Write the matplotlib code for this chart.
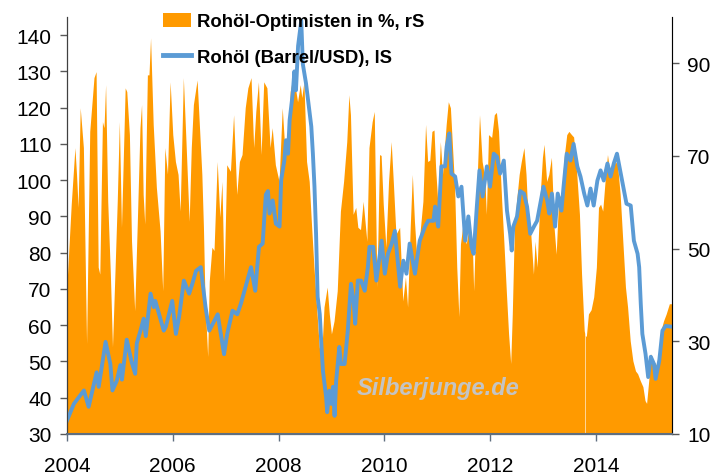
import numpy as np
import matplotlib
matplotlib.use("Agg")
import matplotlib.pyplot as plt
from matplotlib.patches import Patch
from matplotlib.lines import Line2D

plt.rcParams["font.family"] = ["Liberation Sans", "DejaVu Sans"]

# Rohöl (Barrel/USD), linke Skala
oil_years = [
    2004.00, 2004.13, 2004.32, 2004.41, 2004.56, 2004.60, 2004.73, 2004.82, 2004.86, 2004.94,
    2005.01, 2005.04, 2005.13, 2005.22, 2005.29, 2005.32, 2005.39, 2005.45, 2005.49, 2005.58,
    2005.64, 2005.67, 2005.83, 2005.87, 2005.99, 2006.06, 2006.12, 2006.21, 2006.31, 2006.37,
    2006.44, 2006.53, 2006.62, 2006.69, 2006.85, 2006.97, 2007.03, 2007.13, 2007.22, 2007.29,
    2007.41, 2007.48, 2007.56, 2007.63, 2007.70, 2007.76, 2007.80, 2007.83, 2007.89, 2007.95,
    2008.02, 2008.05, 2008.11, 2008.14, 2008.18, 2008.21, 2008.27, 2008.30, 2008.33, 2008.37,
    2008.43, 2008.46, 2008.52, 2008.59, 2008.62, 2008.65, 2008.68, 2008.71, 2008.74, 2008.78,
    2008.81, 2008.84, 2008.90, 2008.92, 2008.96, 2009.00, 2009.03, 2009.06, 2009.09, 2009.15,
    2009.18, 2009.25, 2009.31, 2009.37, 2009.42, 2009.45, 2009.50, 2009.56, 2009.63, 2009.69,
    2009.72, 2009.79, 2009.85, 2009.95, 2010.01, 2010.07, 2010.14, 2010.20, 2010.30, 2010.36,
    2010.42, 2010.48, 2010.58, 2010.67, 2010.77, 2010.83, 2010.93, 2010.96, 2011.02, 2011.08,
    2011.15, 2011.18, 2011.23, 2011.27, 2011.34, 2011.40, 2011.46, 2011.53, 2011.59, 2011.65,
    2011.69, 2011.75, 2011.80, 2011.86, 2011.94, 2012.00, 2012.07, 2012.13, 2012.19, 2012.26,
    2012.32, 2012.38, 2012.41, 2012.44, 2012.51, 2012.57, 2012.64, 2012.70, 2012.76, 2012.83,
    2012.89, 2012.95, 2013.01, 2013.08, 2013.12, 2013.17, 2013.23, 2013.28, 2013.35, 2013.39,
    2013.45, 2013.52, 2013.58, 2013.65, 2013.71, 2013.78, 2013.84, 2013.90, 2013.96, 2014.03,
    2014.09, 2014.15, 2014.22, 2014.28, 2014.34, 2014.40, 2014.46, 2014.52, 2014.58, 2014.66,
    2014.72, 2014.79, 2014.82, 2014.85, 2014.88, 2014.94, 2014.99, 2015.04, 2015.10, 2015.13,
    2015.20, 2015.26, 2015.32, 2015.42, 2015.45,
]
oil_price = [
    33.7, 38.3, 42.0, 37.5, 47.0, 43.0, 55.4, 49.3, 42.0, 44.6,
    49.0, 45.0, 56.0, 50.0, 46.6, 55.0, 58.5, 61.8, 57.0, 68.7,
    65.0, 66.7, 58.5, 59.6, 66.7, 57.6, 62.3, 72.3, 68.7, 71.4,
    75.0, 76.0, 65.0, 58.5, 63.0, 52.0, 57.6, 64.0, 63.0, 66.0,
    72.3, 76.0, 69.5, 81.6, 82.5, 96.0, 97.0, 90.8, 94.4, 88.0,
    87.2, 100.0, 105.4, 111.0, 107.3, 116.5, 124.0, 130.0, 124.8, 137.0,
    144.0, 132.0, 126.7, 118.4, 114.8, 107.3, 98.2, 85.2, 67.8, 63.0,
    54.9, 47.4, 40.2, 36.0, 41.9, 38.3, 43.0, 35.0, 44.6, 54.0,
    49.3, 49.3, 58.5, 71.4, 66.7, 60.4, 72.3, 72.3, 69.5, 76.0,
    81.6, 81.6, 72.3, 83.3, 74.2, 79.7, 82.5, 86.0, 70.6, 77.8,
    74.2, 82.5, 74.2, 83.3, 87.2, 88.8, 88.8, 92.7, 87.2, 103.8,
    103.8, 109.3, 112.9, 101.8, 101.0, 95.5, 98.2, 83.3, 90.0, 81.6,
    79.7, 92.7, 102.7, 95.5, 103.8, 98.2, 107.3, 106.5, 101.8, 105.4,
    91.6, 85.2, 80.6, 87.2, 90.0, 97.0, 96.3, 92.7, 85.2, 87.2,
    88.8, 93.5, 98.2, 94.4, 90.8, 96.3, 87.2, 96.3, 91.6, 98.2,
    107.3, 105.4, 110.0, 103.8, 101.0, 96.3, 93.0, 97.7, 93.0, 99.9,
    102.7, 99.9, 104.6, 101.0, 104.6, 107.3, 102.7, 98.2, 93.5, 93.0,
    83.3, 79.7, 76.0, 65.9, 57.6, 52.1, 45.7, 51.3, 49.3, 45.2,
    50.2, 58.5, 59.8, 59.6, 59.6,
]

# Rohöl-Optimisten in %, rechte Skala (NaN = Datenlücke)
opt_years = [
    2004.00, 2004.05, 2004.09, 2004.16, 2004.19, 2004.22, 2004.26, 2004.32, 2004.38, 2004.44,
    2004.52, 2004.56, 2004.60, 2004.63, 2004.68, 2004.71, 2004.74, 2004.78, 2004.83, 2004.87,
    2004.92, 2004.96, 2005.00, 2005.04, 2005.11, 2005.14, 2005.19, 2005.23, 2005.29, 2005.34,
    2005.39, 2005.42, 2005.45, 2005.48, 2005.53, 2005.56, 2005.59, 2005.64, 2005.70, 2005.77,
    2005.82, 2005.86, 2005.91, 2005.96, 2006.01, 2006.06, 2006.11, 2006.15, 2006.21, 2006.26,
    2006.32, 2006.36, 2006.40, 2006.47, 2006.51, 2006.56, 2006.59, 2006.62, 2006.67, 2006.70,
    2006.75, 2006.79, 2006.85, 2006.90, 2006.94, 2006.98, 2007.03, 2007.10, 2007.16, 2007.22,
    2007.27, 2007.32, 2007.38, 2007.43, 2007.49, 2007.54, 2007.58, 2007.63, 2007.68, 2007.73,
    2007.79, 2007.85, 2007.89, 2007.95, 2008.02, 2008.08, 2008.12, 2008.18, 2008.23, 2008.29,
    2008.37, 2008.42, 2008.45, 2008.49, 2008.54, 2008.59, 2008.63, 2008.68, 2008.73, 2008.78,
    2008.82, 2008.87, 2008.93, 2008.97, 2009.01, 2009.06, 2009.12, 2009.18, 2009.24, 2009.30,
    2009.34, 2009.37, 2009.42, 2009.47, 2009.51, 2009.56, 2009.61, 2009.68, 2009.72, 2009.78,
    2009.82, 2009.87, 2009.92, 2009.95, 2009.99, 2010.04, 2010.09, 2010.14, 2010.18, 2010.23,
    2010.30, 2010.36, 2010.41, 2010.45, 2010.50, 2010.54, 2010.58, 2010.62, 2010.67, 2010.74,
    2010.79, 2010.83, 2010.87, 2010.91, 2010.95, 2010.98, 2011.02, 2011.07, 2011.11, 2011.18,
    2011.22, 2011.26, 2011.29, 2011.34, 2011.38, 2011.42, 2011.45, 2011.49, 2011.56, 2011.62,
    2011.68, 2011.70, 2011.75, 2011.81, 2011.86, 2011.91, 2011.94, 2011.98, 2012.04, 2012.09,
    2012.13, 2012.17, 2012.23, 2012.27, 2012.32, 2012.36, 2012.40, 2012.43, 2012.47, 2012.51,
    2012.56, 2012.60, 2012.65, 2012.69, 2012.73, 2012.78, 2012.83, 2012.86, 2012.90, 2012.95,
    2013.00, 2013.03, 2013.08, 2013.12, 2013.17, 2013.22, 2013.26, 2013.31, 2013.36, 2013.41,
    2013.46, 2013.50, 2013.55, 2013.59, 2013.65, 2013.70, 2013.74, 2013.79, 2013.80, 2013.805,
    2013.81, 2013.83,
    2013.87, 2013.92, 2013.97, 2014.02, 2014.06, 2014.10, 2014.14, 2014.19, 2014.23, 2014.28,
    2014.33, 2014.38, 2014.42, 2014.47, 2014.52, 2014.57, 2014.61, 2014.66, 2014.71, 2014.76,
    2014.80, 2014.85, 2014.90, 2014.94, 2014.97, 2015.01, 2015.05, 2015.10, 2015.15, 2015.20,
    2015.24, 2015.29, 2015.34, 2015.40, 2015.45,
]
opt_pct = [
    40.1, 50.9, 59.5, 71.7, 65.9, 58.8, 80.3, 71.7, 29.4, 75.2,
    86.8, 88.1, 45.9, 44.4, 77.3, 76.0, 85.3, 60.1, 44.4, 28.7,
    45.9, 60.1, 77.3, 54.5, 84.6, 83.8, 74.5, 51.5, 36.5, 55.8,
    76.0, 81.0, 61.6, 55.2, 87.4, 87.4, 95.4, 76.7, 63.1, 53.7,
    40.8, 71.7, 66.0, 85.9, 74.5, 68.7, 65.9, 58.0, 86.8, 73.0,
    55.8, 71.7, 81.0, 86.3, 77.3, 65.9, 54.5, 38.6, 26.6, 42.9,
    50.2, 49.5, 68.7, 56.7, 64.4, 42.9, 68.0, 66.6, 78.8, 61.6,
    68.7, 70.2, 80.3, 84.6, 86.8, 71.7, 79.5, 85.9, 70.2, 85.9,
    84.6, 71.7, 76.0, 68.0, 64.4, 80.3, 73.0, 70.2, 83.8, 87.4,
    81.6, 85.3, 82.5, 85.9, 68.7, 64.4, 55.8, 45.9, 37.3, 28.7,
    25.7, 37.3, 41.6, 35.8, 31.5, 34.3, 40.8, 58.0, 64.4, 73.0,
    83.1, 78.8, 57.3, 58.8, 54.5, 54.0, 60.1, 51.5, 71.7, 77.3,
    79.5, 41.6, 70.2, 70.0, 59.5, 50.2, 64.4, 73.0, 64.4, 53.0,
    54.5, 38.6, 43.8, 37.3, 54.5, 65.9, 55.8, 48.7, 51.5, 60.1,
    76.7, 68.7, 69.0, 75.2, 75.5, 67.4, 60.1, 73.0, 65.9, 76.7,
    81.6, 80.3, 73.9, 63.1, 45.9, 35.2, 50.9, 54.5, 50.9, 55.2,
    48.7, 40.8, 60.1, 78.8, 68.7, 65.3, 57.3, 74.5, 73.9, 78.8,
    79.3, 75.2, 60.1, 51.5, 40.1, 31.5, 25.1, 35.8, 54.5, 60.1,
    65.9, 68.7, 71.7, 65.9, 55.8, 53.0, 44.4, 51.5, 45.9, 60.1,
    69.6, 72.4, 64.4, 65.9, 69.6, 54.5, 48.7, 61.6, 60.8, 69.6,
    74.5, 75.2, 74.5, 74.0, 65.9, 57.3, 44.4, 32.2, 31.6, np.nan,
    31.2, 30.9,
    35.8, 36.7, 39.5, 45.9, 58.8, 59.5, 58.0, 65.3, 70.2, 65.9,
    67.0, 68.7, 68.0, 61.6, 51.5, 41.6, 37.3, 30.0, 25.7, 23.5,
    22.9, 21.4, 20.1, 17.1, 16.5, 21.4, 27.2, 25.7, 24.8, 27.2,
    32.2, 34.3, 35.8, 38.0, 38.0,
]

x_ticks = [2004, 2006, 2008, 2010, 2012, 2014]
left_ticks = [30, 40, 50, 60, 70, 80, 90, 100, 110, 120, 130, 140]
right_ticks = [10, 30, 50, 70, 90]

orange = "#ff9a00"
blue = "#5b9bd5"

fig = plt.figure(figsize=(7.11, 4.77), dpi=100)
ax = fig.add_axes([0.0942, 0.0881, 0.8509, 0.8742])
ax2 = ax.twinx()

ax2.fill_between(opt_years, 10, opt_pct, color=orange, linewidth=0)
ax2.set_ylim(10, 100)
ax2.set_yticks(right_ticks)

ax.plot(oil_years, oil_price, color=blue, lw=2.8, solid_joinstyle="round")
ax.set_ylim(30, 145)
ax.set_yticks(left_ticks)
ax.set_xlim(2004.0, 2015.44)
ax.set_xticks(x_ticks)
ax.set_xticklabels([str(t) for t in x_ticks])

# Linie über der Fläche
ax.set_zorder(ax2.get_zorder() + 1)
ax.patch.set_visible(False)

for a in (ax, ax2):
    a.spines["top"].set_visible(False)
    a.tick_params(labelsize=15, length=5, width=1, pad=6, colors="#595959", labelcolor="black")
ax.spines["left"].set_color("#404040")
ax.spines["bottom"].set_color("#5f6f80")
ax.spines["bottom"].set_linewidth(1.5)
ax2.spines["right"].set_color("#808080")
ax.tick_params(axis="x", colors="#5f6f80", labelcolor="black", pad=11)

ax2.text(0.479, 0.095, "Silberjunge.de", transform=ax.transAxes, fontsize=17,
         fontweight="bold", fontstyle="italic", color="#c4c4c4", zorder=5)

handles = [Patch(facecolor=orange, edgecolor="none"),
           Line2D([], [], color=blue, lw=3.5)]
labels = ["Rohöl-Optimisten in %, rS", "Rohöl (Barrel/USD), lS"]
fig.legend(handles, labels, loc="upper left", bbox_to_anchor=(163 / 711, 1 - 14 / 477),
           frameon=False, borderpad=0, borderaxespad=0, handlelength=1.5, handleheight=0.8,
           handletextpad=0.35, labelspacing=0.95, prop={"size": 13.3, "weight": "bold"})

fig.savefig("out.png", dpi=100)
